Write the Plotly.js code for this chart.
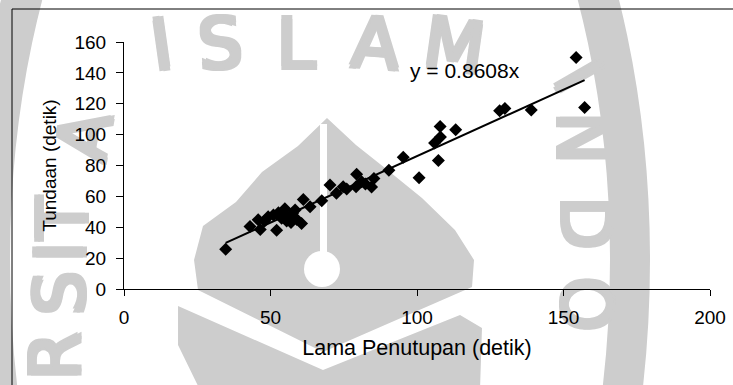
<!DOCTYPE html>
<html>
<head>
<meta charset="utf-8">
<script src="https://cdn.plot.ly/plotly-3.0.1.min.js"></script>
<style>html,body{margin:0;padding:0;background:#fff;}#chart{width:733px;height:385px;}</style>
</head>
<body>
<div id="chart"></div>
<script>
// Data
const lamaPenutupan = [34.7, 43.0, 45.8, 46.5, 48.0, 49.2, 51.0, 52.1, 52.7, 53.8, 54.9, 55.0, 55.5, 56.7, 57.0, 57.5, 58.4, 59.0, 60.6, 61.2, 63.5, 67.5, 70.3, 72.5, 74.8, 76.0, 79.2, 79.4, 81.1, 82.4, 84.5, 85.3, 90.4, 95.3, 100.7, 106.0, 107.3, 108.0, 107.9, 113.2, 128.2, 130.0, 139.0, 154.3, 157.2];
const tundaan      = [25.8, 40.5, 44.8, 38.5, 44.0, 46.8, 47.9, 38.0, 49.4, 45.8, 52.0, 48.0, 44.0, 46.8, 43.0, 49.0, 51.1, 45.0, 42.5, 58.0, 53.3, 57.2, 67.3, 62.0, 66.2, 64.7, 66.2, 74.4, 69.5, 68.0, 66.0, 71.6, 77.0, 85.4, 72.0, 94.5, 83.2, 98.4, 105.2, 103.1, 115.4, 117.0, 116.0, 150.0, 117.6];
const slope = 0.8608;
const equationText = 'y = 0.8608x';
const xTitle = 'Lama Penutupan (detik)';
const yTitle = 'Tundaan (detik)';

const xMin = Math.min(...lamaPenutupan), xMax = Math.max(...lamaPenutupan);
const trendX = [xMin, xMax];
const trendY = trendX.map(v => slope * v);

// pixel -> paper helpers for the background watermark (plot area 124..710 x 42..289)
const L = 124, R = 710, T = 42, B = 289;
const px = x => (x - L) / (R - L);
const py = y => (B - y) / (B - T);
const path = pts => 'M ' + pts.map(p => px(p[0]).toFixed(4) + ',' + py(p[1]).toFixed(4)).join(' L ') + ' Z';

const WM = '#cdcdcd';
const font = "'Liberation Sans', Arial, sans-serif";

// watermark letters, drawn as labels of invisible shapes so they stay behind the chart
const wmLetters = [
  ['I', 161, 40, -8], ['S', 220, 39, -4], ['L', 296, 39, 0], ['A', 376, 39, 4], ['M', 455, 41, 8],
  ['I', 582, 74, 60], ['N', 587, 138, 90], ['D', 591, 223, 90], ['O', 591, 304, 90],
  ['A', 80, 135, -80], ['T', 58, 218, -90], ['I', 56, 252, -90], ['S', 55, 293, -90], ['R', 50, 356, -90]
];

const shapes = [
  // outer ring band
  {type: 'circle', xref: 'paper', yref: 'paper', x0: px(-10), x1: px(630), y0: py(860), y1: py(-340),
   line: {color: WM, width: 40}, fillcolor: 'rgba(0,0,0,0)', layer: 'below'},
  // flame
  {type: 'path', xref: 'paper', yref: 'paper', layer: 'below', line: {width: 0}, fillcolor: WM,
   path: path([[327,118],[298,146],[262,172],[236,202],[203,226],[194,260],[198,290],[323,352],[472,287],[474,260],[455,230],[422,198],[385,168],[356,145]])},
  // white stripe and circle
  {type: 'path', xref: 'paper', yref: 'paper', layer: 'below', line: {width: 0}, fillcolor: '#fff',
   path: path([[320,124],[327,124],[327,255],[320,255]])},
  {type: 'circle', xref: 'paper', yref: 'paper', layer: 'below', line: {width: 0}, fillcolor: '#fff',
   x0: px(304), x1: px(340), y0: py(287), y1: py(251)},
  // lower bowl
  {type: 'path', xref: 'paper', yref: 'paper', layer: 'below', line: {width: 0}, fillcolor: WM,
   path: path([[178,306],[323,370],[460,315],[482,328],[480,390],[200,390],[178,345]])},
  // outer frame
  {type: 'rect', xref: 'paper', yref: 'paper', x0: px(12), x1: px(760), y0: py(9), y1: py(400),
   line: {color: '#000', width: 1}, fillcolor: 'rgba(0,0,0,0)', layer: 'above'}
];
// thicken the watermark strokes by overprinting each letter with small offsets
const offs = [[-2,-2],[2,-2],[-2,2],[2,2],[0,0]];
wmLetters.forEach(w => {
  offs.forEach(o => {
    const cx = w[1] + o[0], cy = w[2] + o[1];
    shapes.push({
      type: 'rect', xref: 'paper', yref: 'paper', layer: 'below',
      x0: px(cx - 20), x1: px(cx + 20), y0: py(cy + 20), y1: py(cy - 20),
      line: {width: 0}, fillcolor: 'rgba(0,0,0,0)',
      label: {text: w[0], textposition: 'middle center', textangle: w[3],
              font: {family: "DejaVu Sans", size: 70, color: WM}}
    });
  });
});

const annotations = [{
  xref: 'x', yref: 'y', x: 116.4, y: 141.7, text: equationText, showarrow: false,
  font: {family: font, size: 21, color: '#000'}, xanchor: 'center', yanchor: 'middle'
}];

const traces = [
  {x: lamaPenutupan, y: tundaan, type: 'scatter', mode: 'markers',
   marker: {symbol: 'diamond', size: 10, color: '#000', line: {width: 0}}, cliponaxis: false, hoverinfo: 'x+y'},
  {x: trendX, y: trendY, type: 'scatter', mode: 'lines', line: {color: '#000', width: 2}, hoverinfo: 'none'}
];

const layout = {
  width: 733, height: 385,
  margin: {l: L, r: 733 - R, t: T, b: 385 - B},
  paper_bgcolor: '#fff', plot_bgcolor: 'rgba(0,0,0,0)',
  showlegend: false,
  font: {family: font, color: '#000'},
  xaxis: {range: [0, 200], tick0: 0, dtick: 50, ticks: 'outside', ticklen: 6, tickcolor: '#000', tickwidth: 1,
          showline: true, linecolor: '#000', linewidth: 1, showgrid: false, zeroline: false,
          tickfont: {size: 19, family: font, color: '#000'}, ticklabelstandoff: 5,
          title: {text: xTitle, font: {size: 21.5, family: font, color: '#000'}, standoff: 13}},
  yaxis: {range: [0, 160], tick0: 0, dtick: 20, ticks: 'outside', ticklen: 7, tickcolor: '#000', tickwidth: 1,
          showline: true, linecolor: '#000', linewidth: 1, showgrid: false, zeroline: false,
          tickfont: {size: 19, family: font, color: '#000'}, ticklabelstandoff: 6,
          title: {text: yTitle, font: {size: 19, family: font, color: '#000'}, standoff: 12}},
  annotations: annotations,
  shapes: shapes
};

Plotly.newPlot('chart', traces, layout, {staticPlot: true, displayModeBar: false});
</script>
</body>
</html>
